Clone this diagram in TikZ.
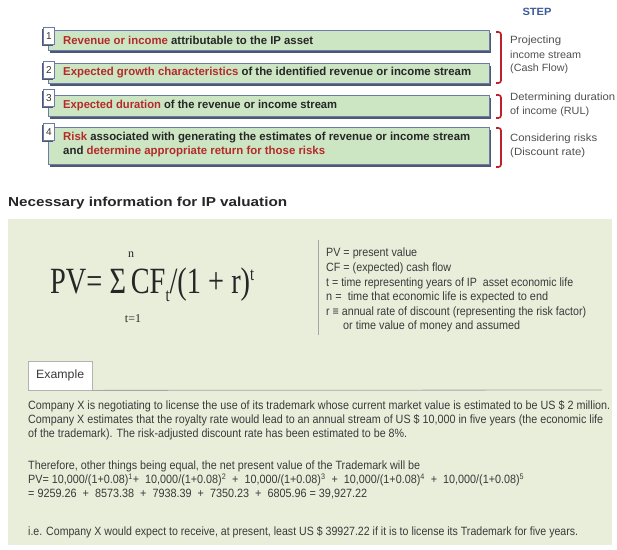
\documentclass[tikz,border=0pt]{standalone}
\usepackage{fontspec}
\setmainfont{Liberation Sans}
\newfontfamily\serifF{Liberation Serif}
\usepackage{graphicx}
\usetikzlibrary{shadows}
\definecolor{bargreen}{HTML}{CCE6C4}
\definecolor{barblue}{HTML}{6C7BA8}
\definecolor{shadowc}{HTML}{4E5873}
\definecolor{redt}{HTML}{B42A2A}
\definecolor{brk}{HTML}{C0202A}
\definecolor{panelc}{HTML}{E9EEDB}
\definecolor{stepc}{HTML}{3D5A99}
\definecolor{grayt}{HTML}{505050}
\definecolor{bodyt}{HTML}{3A3A3A}
\newlength\fitw
\newcommand\fitbox[2]{\settowidth\fitw{#2}\pgfmathsetmacro\fitr{#1/\fitw}\scalebox{\fitr}[1]{#2}}
\begin{document}
\begin{tikzpicture}[x=1pt,y=-1pt,
  bar/.style={draw=barblue, line width=0.8pt, fill=bargreen, anchor=north west, inner sep=0,
    minimum width=441pt, drop shadow={shadow xshift=2pt, shadow yshift=-2.5pt, fill=shadowc, opacity=1}},
  numbox/.style={draw=barblue, line width=0.8pt, fill=white, anchor=north west, minimum width=11pt,
    minimum height=17pt, inner sep=0, font=\fontsize{10}{10}\selectfont, text=black!80,
    drop shadow={shadow xshift=-1pt, shadow yshift=-1.5pt, fill=shadowc, opacity=1}},
  bt/.style={anchor=west, inner sep=0, font=\bfseries\fontsize{11.5}{12}\selectfont, text=black!85},
  rt/.style={anchor=west, inner sep=0, font=\fontsize{10.5}{11}\selectfont, text=grayt},
  brack/.style={draw=brk, line width=1.6pt, rounded corners=2.5pt},
  df/.style={anchor=west, inner sep=0, font=\fontsize{12}{12}\selectfont, text=bodyt},
]
\useasboundingbox (0,0) rectangle (617,549);
\fill[white] (0,0) rectangle (617,549);
% step bars
\node[bar, minimum height=20pt] (b1) at (48,30) {};
\node[bar, minimum height=20pt] (b2) at (48,63) {};
\node[bar, minimum height=21pt] (b3) at (48,95) {};
\node[bar, minimum height=37pt] (b4) at (48,127) {};
\node[numbox] (n1) at (43,27) {1};
\node[numbox] (n2) at (43,61) {2};
\node[numbox] (n3) at (43,89) {3};
\node[numbox] (n4) at (43,123) {4};
\node[bt] (t1) at (63,40) {\fitbox{250}{\textcolor{redt}{Revenue or income} attributable to the IP asset}};
\node[bt] (t2) at (63,73) {\fitbox{408}{\textcolor{redt}{Expected growth characteristics} of the identified revenue or income stream}};
\node[bt] (t3) at (63,106) {\fitbox{274}{\textcolor{redt}{Expected duration} of the revenue or income stream}};
\node[bt] (t4a) at (63,138) {\fitbox{407}{\textcolor{redt}{Risk} associated with generating the estimates of revenue or income stream}};
\node[bt] (t4b) at (63,152) {\fitbox{262}{and \textcolor{redt}{determine appropriate return for those risks}}};
\node[font=\bfseries\fontsize{10.5}{10.5}\selectfont, text=stepc, inner sep=0] (step) at (537,12) {\fitbox{29}{STEP}};
% brackets
\draw[brack] (496,32) -- (501,32) -- (501,83) -- (496,83);
\draw[brack] (496,95) -- (501,95) -- (501,118) -- (496,118);
\draw[brack] (496,128) -- (501,128) -- (501,167) -- (496,167);
\node[rt] (r1) at (510,41) {\fitbox{51}{Projecting}};
\node[rt] (r2) at (510,55) {\fitbox{71}{income stream}};
\node[rt] (r3) at (510,69) {\fitbox{58}{(Cash Flow)}};
\node[rt] (r4) at (510,98) {\fitbox{105}{Determining duration}};
\node[rt] (r5) at (510,112) {\fitbox{79}{of income (RUL)}};
\node[rt] (r6) at (510,139) {\fitbox{87}{Considering risks}};
\node[rt] (r7) at (510,153) {\fitbox{75}{(Discount rate)}};
% title
\node[anchor=west, inner sep=0, font=\bfseries\fontsize{13}{13}\selectfont, text=black!85] (title) at (8,203) {\fitbox{279}{Necessary information for IP valuation}};
% panel
\node[fill=panelc, anchor=north west, minimum width=604pt, minimum height=326pt, inner sep=0] (panel) at (8,219) {};
% formula
\node[anchor=base west, inner sep=0, font=\serifF\fontsize{37}{37}\selectfont, text=black!85] (pv) at (50,293)
  {\fitbox{204}{PV= Σ\,CF\raisebox{-8pt}{\fontsize{19}{19}\selectfont t}/(1 + r)\raisebox{13pt}{\fontsize{19}{19}\selectfont t}}};
\node[font=\serifF\fontsize{12}{12}\selectfont, text=black!85, inner sep=0] (nn) at (131,255) {n};
\node[font=\serifF\fontsize{12}{12}\selectfont, text=black!85, inner sep=0] (t1b) at (133,319) {t=1};
\draw[gray!70, line width=0.8pt] (318,240) -- (318,335);
\node[df] (d1) at (326,253) {\fitbox{91}{PV = present value}};
\node[df] (d2) at (326,268) {\fitbox{125}{CF = (expected) cash flow}};
\node[df] (d3) at (326,283) {\fitbox{247}{t = time representing years of IP\ \ asset economic life}};
\node[df] (d4) at (326,297) {\fitbox{222}{n = \ time that economic life is expected to end}};
\node[df] (d5) at (326,312) {\fitbox{260}{r ≡ annual rate of discount (representing the risk factor)}};
\node[df] (d6) at (343,326) {\fitbox{177}{or time value of money and assumed}};
% example
\node[draw=gray!60, fill=white, anchor=north west, minimum width=64pt, minimum height=29pt, inner sep=0,
  font=\fontsize{12}{12}\selectfont, text=bodyt] (ex) at (28,361) {\fitbox{48}{Example}};
\coordinate (exend) at (602,390);
\draw[gray!70, line width=0.8pt] (ex.south east) -- (exend);
\node[df] (e1) at (28,406) {\fitbox{582}{Company X is negotiating to license the use of its trademark whose current market value is estimated to be US \$ 2 million.}};
\node[df] (e2) at (28,420) {\fitbox{575}{Company X estimates that the royalty rate would lead to an annual stream of US \$ 10,000 in five years (the economic life}};
\node[df] (e3) at (28,434) {\fitbox{379}{of the trademark). The risk-adjusted discount rate has been estimated to be 8\%.}};
\node[df] (e4) at (28,466) {\fitbox{392}{Therefore, other things being equal, the net present value of the Trademark will be}};
\node[df] (e5) at (28,480) {\fitbox{496}{PV= 10,000/(1+0.08)\textsuperscript{1}+\ \ 10,000/(1+0.08)\textsuperscript{2}\ \ +\ \ 10,000/(1+0.08)\textsuperscript{3}\ \ +\ \ 10,000/(1+0.08)\textsuperscript{4}\ \ +\ \ 10,000/(1+0.08)\textsuperscript{5}}};
\node[df] (e6) at (28,494) {\fitbox{339}{= 9259.26\ \ +\ \ 8573.38\ \ +\ \ 7938.39\ \ +\ \ 7350.23\ \ +\ \ 6805.96 = 39,927.22}};
\node[df] (e7) at (28,532) {\fitbox{550}{i.e. Company X would expect to receive, at present, least US \$ 39927.22 if it is to license its Trademark for five years.}};
\end{tikzpicture}
\end{document}
